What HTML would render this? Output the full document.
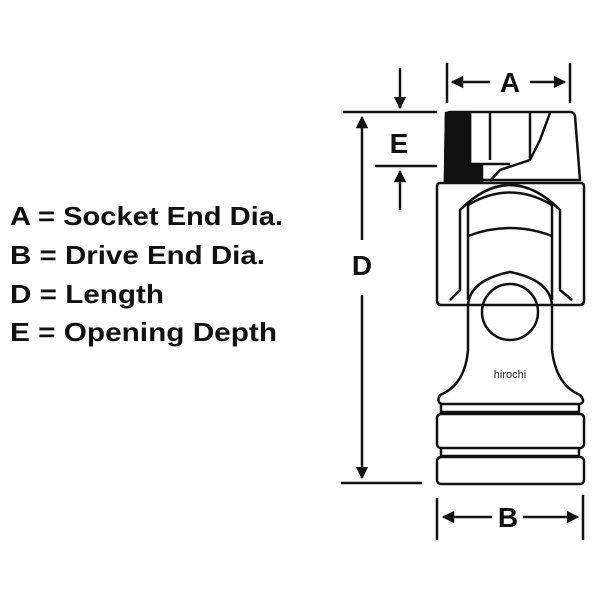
<!DOCTYPE html>
<html><head><style>
body{margin:0;background:#fff}
</style></head><body>
<svg width="600" height="600" viewBox="0 0 600 600" xmlns="http://www.w3.org/2000/svg">
<rect width="600" height="600" fill="#fff"/>
<g font-family="Liberation Sans, sans-serif" font-weight="bold" font-size="26" fill="#111">
<text x="10" y="225" textLength="273" lengthAdjust="spacingAndGlyphs">A = Socket End Dia.</text>
<text x="10" y="264" textLength="255" lengthAdjust="spacingAndGlyphs">B = Drive End Dia.</text>
<text x="10" y="303" textLength="154" lengthAdjust="spacingAndGlyphs">D = Length</text>
<text x="10" y="341" textLength="267" lengthAdjust="spacingAndGlyphs">E = Opening Depth</text>
</g>
<defs><marker id="ah" viewBox="0 0 10 10" refX="9" refY="5" markerWidth="5" markerHeight="5" orient="auto"><path d="M0,0L10,5L0,10z" fill="#111"/></marker></defs>
<g stroke="#111" stroke-width="2.5" fill="none">
<line x1="343" y1="112" x2="437" y2="112"/>
<line x1="341" y1="483" x2="422" y2="483"/>
<line x1="362" y1="240" x2="362" y2="117" marker-end="url(#ah)"/>
<line x1="362" y1="295" x2="362" y2="478" marker-end="url(#ah)"/>
<line x1="400" y1="68" x2="400" y2="108" marker-end="url(#ah)"/>
<line x1="375" y1="166" x2="437" y2="166"/>
<line x1="400" y1="210" x2="400" y2="171" marker-end="url(#ah)"/>
<line x1="447" y1="63" x2="447" y2="103"/>
<line x1="570" y1="63" x2="570" y2="103"/>
<line x1="490" y1="82" x2="452" y2="82" marker-end="url(#ah)"/>
<line x1="530" y1="82" x2="565" y2="82" marker-end="url(#ah)"/>
<line x1="437" y1="498" x2="437" y2="540"/>
<line x1="583" y1="495" x2="583" y2="540"/>
<line x1="492" y1="517" x2="443" y2="517" marker-end="url(#ah)"/>
<line x1="523" y1="517" x2="578" y2="517" marker-end="url(#ah)"/>
<path d="M450,112 L570,112 Q574,112 575,116 L580,180 L445,180 L446,116 Q447,112 450,112Z"/>
<path d="M446,113 L470,113 L470,165 L482,165 L482,181 L445,181Z" fill="#111"/>
<line x1="470" y1="113" x2="470" y2="165"/>
<line x1="490" y1="113" x2="490" y2="160"/>
<line x1="530" y1="113" x2="530" y2="160"/>
<path d="M550,113 L540,140 L530,160 L500,170 L490,181"/>
<line x1="470" y1="164" x2="510" y2="164"/>
<path d="M440,183 L581,183 Q584,183 584,187 L584,300 Q584,305 580,305 L441,305 Q437,305 437,300 L437,187 Q437,183 440,183Z"/>
<path d="M450,300 L460,290 L460,210 Q510,160 560,210 L560,290 L572,300"/>
<path d="M468,300 L468,205 Q510,180 552,205 L552,300"/>
<path d="M468,236 Q510,220 552,236"/>
<path d="M468,305 Q470,280 510,272 Q550,280 552,305"/>
<circle cx="510" cy="312" r="28"/>
<path d="M468,305 L468,350 Q465,385 440,395 Q436,402 442,404 L580,404 Q586,402 580,395 Q556,385 552,350 L552,305" fill="none"/>
<path d="M441,404 L441,412 L579,412 L579,404"/>
<rect x="437" y="414" width="147" height="34" rx="4"/>
<path d="M441,448 L441,456 L579,456 L579,448"/>
<rect x="437" y="457" width="147" height="27" rx="4"/>
</g>
<g font-family="Liberation Sans, sans-serif" font-weight="bold" font-size="28" fill="#111" text-anchor="middle">
<text x="362" y="275">D</text>
<text x="399" y="153">E</text>
<text x="510" y="92">A</text>
<text x="508" y="527">B</text>
</g>
<text x="510" y="378" font-family="Liberation Sans, sans-serif" font-size="11" fill="#222" text-anchor="middle">hirochi</text>
</svg>
</body></html>
